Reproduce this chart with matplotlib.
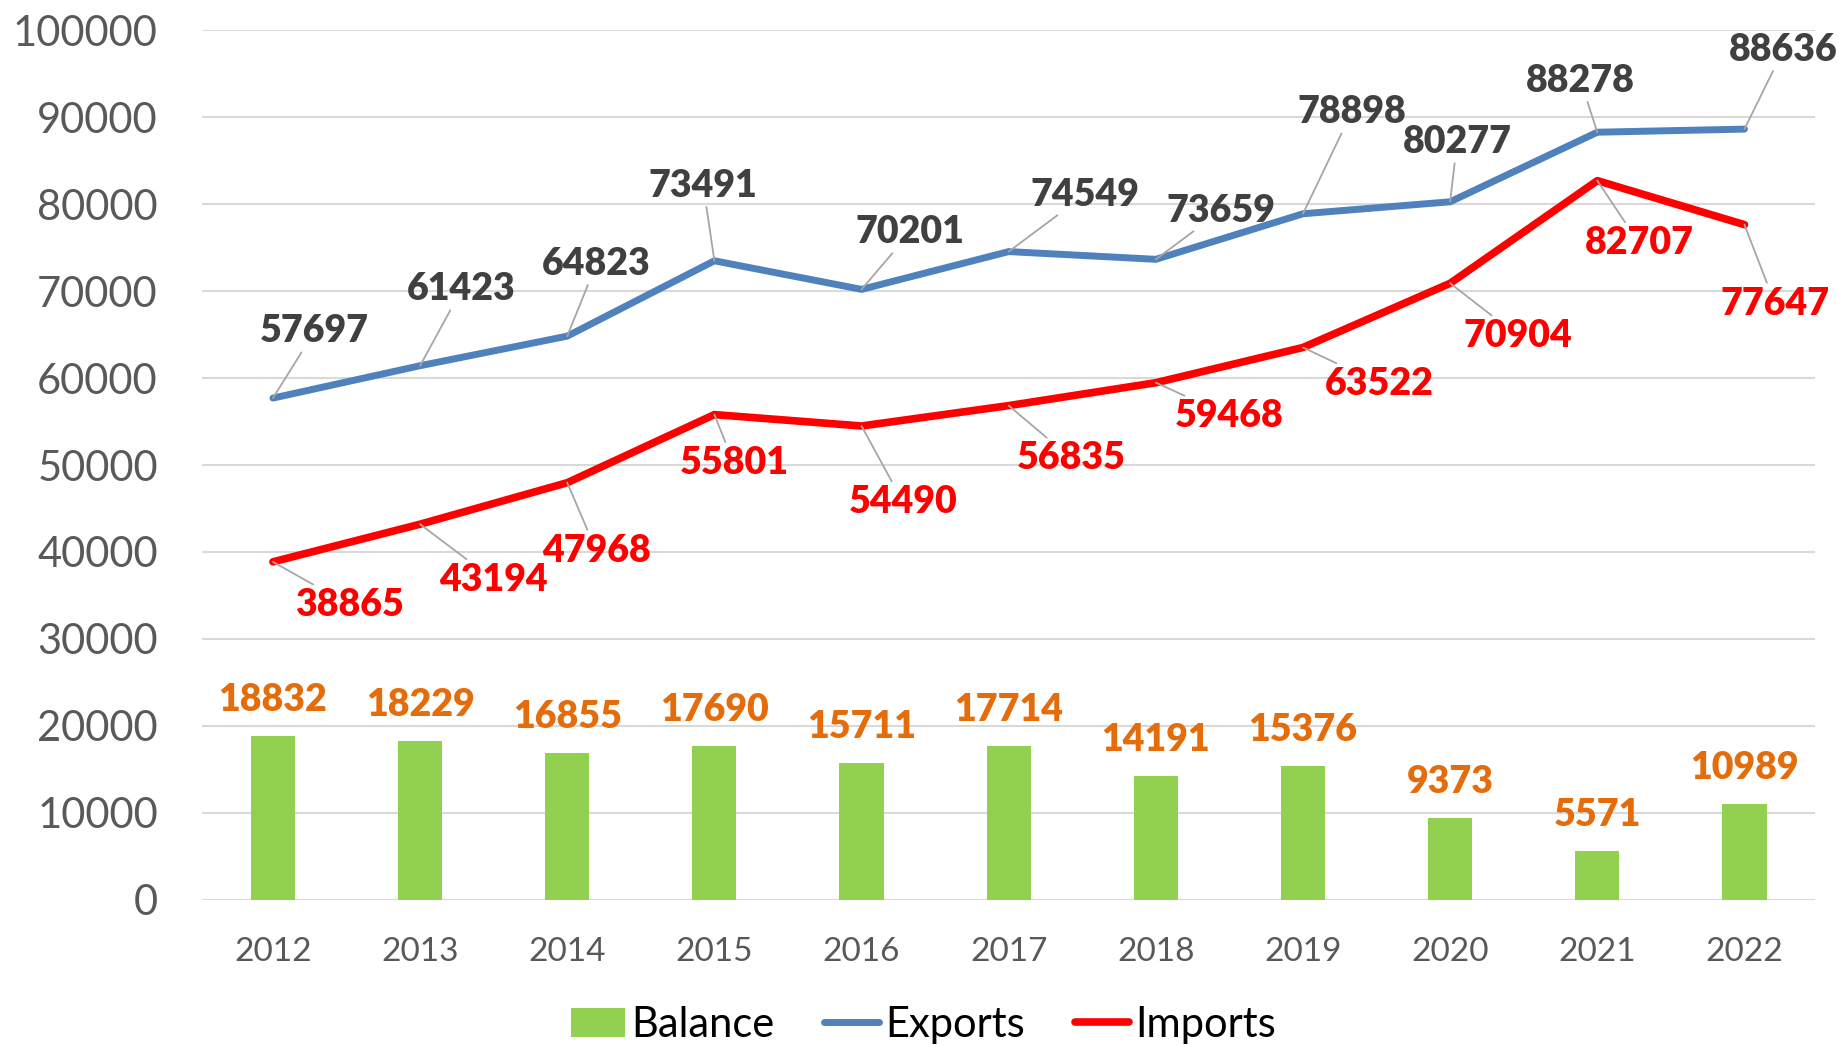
import numpy as np
import matplotlib.pyplot as plt

plt.rcParams['font.family'] = ['Lato', 'DejaVu Sans']

# datos
years = ["2012", "2013", "2014", "2015", "2016", "2017", "2018", "2019", "2020", "2021", "2022"]
exports = [57697, 61423, 64823, 73491, 70201, 74549, 73659, 78898, 80277, 88278, 88636]
imports = [38865, 43194, 47968, 55801, 54490, 56835, 59468, 63522, 70904, 82707, 77647]
balance = [18832, 18229, 16855, 17690, 15711, 17714, 14191, 15376, 9373, 5571, 10989]

# desplazamiento de las etiquetas (puntos)
exp_off = [(30, 48), (30, 55), (21, 52), (-8, 54), (35, 41), (55, 41),
           (47, 35), (35, 73), (5, 43), (-12, 37), (28, 57)]
imp_off = [(55, -31), (53, -40), (21, -49), (14, -35), (30, -55), (45, -38),
           (53, -24), (55, -26), (49, -38), (30, -45), (22, -57)]

x = np.arange(len(years))

fig = plt.figure(figsize=(18.39, 10.45), dpi=100)
ax = fig.add_axes([0.110, 0.139, 0.877, 0.832])

b = ax.bar(x, balance, width=0.3, color="#92D050", label="Balance", zorder=2)
le, = ax.plot(x, exports, color="#4F81BD", lw=5, solid_capstyle="round", label="Exports", zorder=3)
li, = ax.plot(x, imports, color="#FF0000", lw=5.5, solid_capstyle="round", label="Imports", zorder=3)

leader = dict(arrowstyle="-", color="#A6A6A6", lw=1.3, shrinkA=1, shrinkB=0)
for i in range(len(x)):
    ax.annotate(str(exports[i]), (x[i], exports[i]), xytext=exp_off[i],
                textcoords="offset points", ha="center", va="center",
                fontsize=27, fontweight="heavy", color="#404040",
                arrowprops=leader, zorder=4)
    ax.annotate(str(imports[i]), (x[i], imports[i]), xytext=imp_off[i],
                textcoords="offset points", ha="center", va="center",
                fontsize=27, fontweight="heavy", color="#FF0000",
                arrowprops=leader, zorder=4)
    ax.annotate(str(balance[i]), (x[i], balance[i]), xytext=(0, 26),
                textcoords="offset points", ha="center", va="center",
                fontsize=27, fontweight="heavy", color="#E46C0A", zorder=4)

ax.set_xlim(-0.48, 10.48)
ax.set_ylim(0, 100000)
ax.set_yticks(np.arange(0, 100001, 10000))
ax.set_xticks(x)
ax.set_xticklabels(years)
ax.grid(axis="y", color="#D9D9D9", lw=1.5, zorder=0)
ax.set_axisbelow(True)
for s in ["top", "right", "left", "bottom"]:
    ax.spines[s].set_visible(False)
ax.tick_params(axis="y", length=0, pad=32, labelsize=30, labelcolor="#595959")
ax.tick_params(axis="x", length=0, pad=27, labelsize=24, labelcolor="#595959")

ax.legend([b, le, li], ["Balance", "Exports", "Imports"], loc="lower center",
          bbox_to_anchor=(0.447, -0.197), ncol=3, frameon=False, borderpad=0.15,
          fontsize=30, handlelength=1.3, handletextpad=0.15, columnspacing=1.2)

plt.savefig("out.png", dpi=100)
